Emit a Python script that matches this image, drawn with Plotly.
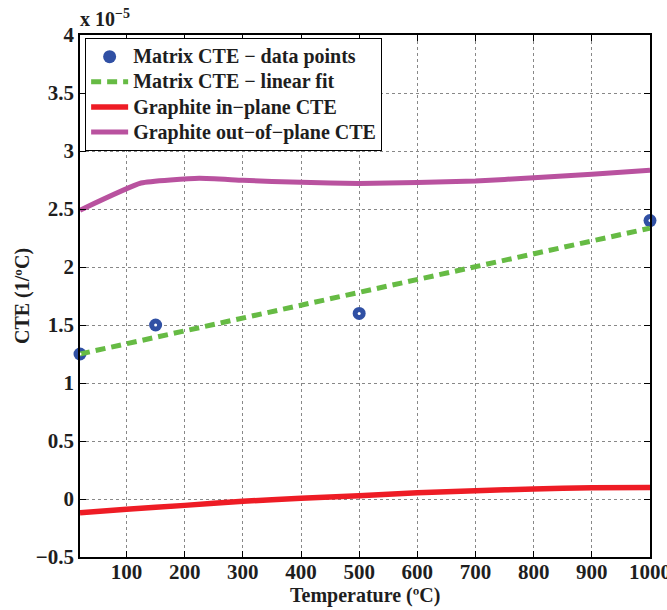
import plotly.graph_objects as go

# Matrix CTE measurements (x 1e-5 1/ºC)
matrix_temp = [20, 150, 500, 1000]
matrix_cte = [1.25, 1.5, 1.6, 2.4]

# Linear fit of the matrix CTE
fit_temp = [20, 1000]
fit_cte = [1.25, 2.335]

# Graphite in-plane CTE
inplane_temp = [20, 100, 200, 300, 400, 500, 600, 700, 800, 900, 1000]
inplane_cte = [-0.118, -0.089, -0.055, -0.02, 0.006, 0.028, 0.054, 0.072, 0.086, 0.097, 0.10]

# Graphite out-of-plane CTE
outplane_temp = [20, 125, 225, 300, 400, 500, 600, 700, 800, 900, 1000]
outplane_cte = [2.49, 2.724, 2.765, 2.747, 2.73, 2.72, 2.728, 2.741, 2.77, 2.80, 2.834]

x_ticks = [100, 200, 300, 400, 500, 600, 700, 800, 900, 1000]
y_ticks = [-0.5, 0, 0.5, 1, 1.5, 2, 2.5, 3, 3.5, 4]
y_tick_text = ["−0.5", "0", "0.5", "1", "1.5", "2", "2.5", "3", "3.5", "4"]

FONT = "Liberation Serif, Times New Roman, serif"
INK = "#1e1e1e"


def legend_label(text):
    # legend rows stay compact while the label text is drawn larger
    return f'<span style="font-size:20px"><b>{text}</b></span>'


fig = go.Figure()

fig.add_trace(go.Scatter(
    x=matrix_temp, y=matrix_cte, mode="markers",
    name=legend_label("Matrix CTE − data points"),
    marker=dict(symbol="circle", size=13, color="#3050a4", line=dict(width=0)),
    cliponaxis=False,
))
fig.add_trace(go.Scatter(
    x=fit_temp, y=fit_cte, mode="lines",
    name=legend_label("Matrix CTE − linear fit"),
    line=dict(color="#66bb44", width=5, dash="10px,6px"),
))
fig.add_trace(go.Scatter(
    x=inplane_temp, y=inplane_cte, mode="lines",
    name=legend_label("Graphite in−plane CTE"),
    line=dict(color="#ee1c25", width=5.5, shape="spline", smoothing=0.6),
))
fig.add_trace(go.Scatter(
    x=outplane_temp, y=outplane_cte, mode="lines",
    name=legend_label("Graphite out−of−plane CTE"),
    line=dict(color="#b9529f", width=5, shape="spline", smoothing=0.4),
))
# white centre dots on the data-point markers
fig.add_trace(go.Scatter(
    x=matrix_temp, y=matrix_cte, mode="markers", showlegend=False,
    marker=dict(symbol="circle", size=3, color="white", line=dict(width=0)),
    hoverinfo="skip", cliponaxis=False,
))

axis_common = dict(
    showline=True, linecolor="black", linewidth=1.5, mirror="ticks",
    ticks="inside", ticklen=6, tickwidth=1, tickcolor="black",
    showgrid=True, gridcolor="#888888", griddash="dot", gridwidth=1,
    zeroline=False, ticklabeloverflow="allow", automargin=False,
    tickfont=dict(family=FONT, size=21, color=INK, weight="bold"),
)

fig.update_xaxes(
    range=[20, 1000.0001], tickvals=x_ticks, ticktext=[str(v) for v in x_ticks],
    ticklabelstandoff=-5,
    **axis_common,
)
fig.update_yaxes(
    range=[-0.5, 4.0001], tickvals=y_ticks, ticktext=y_tick_text,
    **axis_common,
)

# axis titles
fig.add_annotation(
    x=0.5, y=0, xref="paper", yref="paper", xanchor="center", yanchor="middle",
    yshift=-38, showarrow=False,
    text="<b>Temperature (ºC)</b>",
    font=dict(family=FONT, size=20, color=INK),
)
fig.add_annotation(
    x=0, y=0.5, xref="paper", yref="paper", xanchor="center", yanchor="middle",
    xshift=-58, showarrow=False, textangle=-90,
    text="<b>CTE (1/ºC)</b>",
    font=dict(family=FONT, size=20, color=INK),
)
# scale factor of the y axis
fig.add_annotation(
    x=0, y=1, xref="paper", yref="paper", xanchor="left", yanchor="bottom",
    yshift=3, xshift=-2, showarrow=False,
    text="<b>x 10<sup>−5</sup></b>",
    font=dict(family=FONT, size=20, color=INK),
)

fig.update_layout(
    width=667, height=610,
    margin=dict(l=80, r=17, t=35, b=53),
    paper_bgcolor="white", plot_bgcolor="white",
    showlegend=True,
    legend=dict(
        x=0.009, y=0.994, xanchor="left", yanchor="top",
        bgcolor="white", bordercolor="black", borderwidth=1,
        font=dict(family=FONT, size=17, color=INK),
        tracegroupgap=0, itemwidth=37,
    ),
)

fig.write_html("out.html")
